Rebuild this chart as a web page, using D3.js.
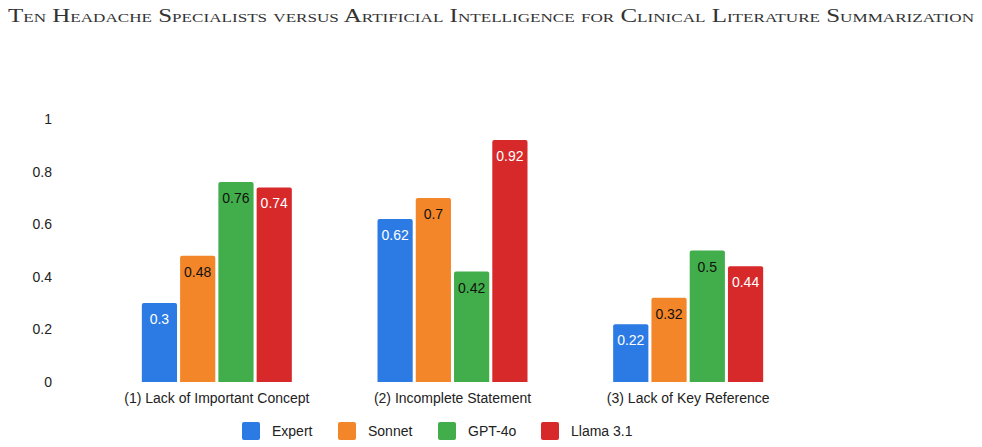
<!DOCTYPE html>
<html>
<head>
<meta charset="utf-8">
<script src="https://cdn.jsdelivr.net/npm/d3@7"></script>
<style>
  body { margin: 0; background: #fff; }
  text { font-family: "Liberation Sans", Arial, sans-serif; }
</style>
</head>
<body>
<div id="chart"></div>
<script>
var categories = ["(1) Lack of Important Concept", "(2) Incomplete Statement", "(3) Lack of Key Reference"];
var series = ["Expert", "Sonnet", "GPT-4o", "Llama 3.1"];
var expert = [0.3, 0.62, 0.22];
var sonnet = [0.48, 0.7, 0.32];
var gpt4o = [0.76, 0.42, 0.5];
var llama = [0.74, 0.92, 0.44];
var yTicks = [0, 0.2, 0.4, 0.6, 0.8, 1];

var colors = ["#2c7be5", "#f4862a", "#41ae4b", "#d7292a"];
var labelColors = ["#fff", "#111", "#111", "#fff"];
var values = [expert, sonnet, gpt4o, llama];

var width = 982, height = 447;

var svg = d3.select("#chart")
  .append("svg")
    .attr("width", width)
    .attr("height", height);

svg.append("text")
  .attr("x", 491)
  .attr("y", 22)
  .attr("text-anchor", "middle")
  .attr("textLength", 966)
  .attr("lengthAdjust", "spacingAndGlyphs")
  .style("font-family", "'Liberation Serif', 'DejaVu Serif', serif")
  .style("font-variant", "small-caps")
  .style("font-size", "19px")
  .style("fill", "#333")
  .text("Ten Headache Specialists versus Artificial Intelligence for Clinical Literature Summarization");

var x0 = d3.scaleBand()
  .domain(categories)
  .range([99, 806])
  .padding(0);

var groupW = 150;
var x1 = d3.scaleBand()
  .domain(series)
  .range([0, groupW])
  .paddingInner(0.08)
  .paddingOuter(0);

var y = d3.scaleLinear()
  .domain([0, 1])
  .range([382, 119]);

// y axis labels only
var yAxis = svg.append("g")
  .attr("transform", "translate(52,0)")
  .call(d3.axisLeft(y).tickValues(yTicks).tickSize(0).tickPadding(0)
    .tickFormat(function(d) { return d3.format("~g")(d); }));
yAxis.select(".domain").remove();
yAxis.selectAll("text")
  .style("font-family", "'Liberation Sans', Arial, sans-serif")
  .style("font-size", "14px")
  .style("fill", "#222");

// x axis labels
var xAxis = svg.append("g")
  .attr("transform", "translate(0,382)")
  .call(d3.axisBottom(x0).tickSize(0).tickPadding(11));
xAxis.select(".domain").remove();
xAxis.selectAll("text")
  .style("font-family", "'Liberation Sans', Arial, sans-serif")
  .style("font-size", "14px")
  .style("fill", "#222");

function topRounded(x, yTop, w, yBase, r) {
  return "M" + x + "," + yBase +
    "V" + (yTop + r) +
    "Q" + x + "," + yTop + " " + (x + r) + "," + yTop +
    "H" + (x + w - r) +
    "Q" + (x + w) + "," + yTop + " " + (x + w) + "," + (yTop + r) +
    "V" + yBase + "Z";
}

var data = [];
categories.forEach(function(c, i) {
  series.forEach(function(s, j) {
    data.push({cat: c, ser: s, idx: j, v: values[j][i]});
  });
});

var off = (x0.bandwidth() - groupW) / 2;

var bars = svg.append("g");
bars.selectAll("path")
  .data(data)
  .enter().append("path")
    .attr("d", function(d) {
      var bx = x0(d.cat) + off + x1(d.ser);
      return topRounded(bx, y(d.v), x1.bandwidth(), y(0), 2);
    })
    .attr("fill", function(d) { return colors[d.idx]; });

bars.selectAll("text")
  .data(data)
  .enter().append("text")
    .attr("x", function(d) { return x0(d.cat) + off + x1(d.ser) + x1.bandwidth() / 2; })
    .attr("y", function(d) { return y(d.v) + 21; })
    .attr("text-anchor", "middle")
    .style("font-size", "14px")
    .style("fill", function(d) { return labelColors[d.idx]; })
    .text(function(d) { return d3.format("~g")(d.v); });

// legend
var legendX = [242, 338, 438, 541];
var legend = svg.append("g").selectAll("g")
  .data(series)
  .enter().append("g")
    .attr("transform", function(d, i) { return "translate(" + legendX[i] + ",422)"; });
legend.append("rect")
  .attr("width", 18).attr("height", 18).attr("rx", 2)
  .attr("fill", function(d, i) { return colors[i]; });
legend.append("text")
  .attr("x", 30).attr("y", 14)
  .style("font-size", "14px")
  .style("fill", "#222")
  .text(function(d) { return d; });
</script>
</body>
</html>
